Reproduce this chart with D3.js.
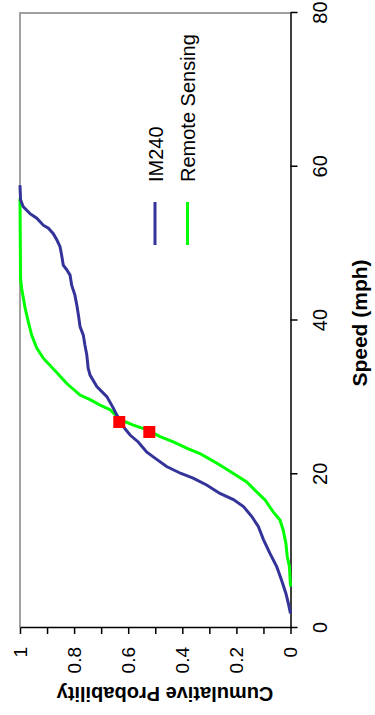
<!DOCTYPE html>
<html>
<head>
<meta charset="utf-8">
<script src="https://cdn.jsdelivr.net/npm/d3@7"></script>
<style>
  html, body { margin: 0; padding: 0; background: #fff; }
  svg { display: block; font-family: "Liberation Sans", Arial, sans-serif; }
</style>
</head>
<body>
<svg id="chart" width="375" height="715"></svg>
<script>
// ---- data ----
const speedTicks = [0, 20, 40, 60, 80];
const probTicks = [0, 0.1, 0.2, 0.3, 0.4, 0.5, 0.6, 0.7, 0.8, 0.9, 1];
const probLabels = ["0", "", "0.2", "", "0.4", "", "0.6", "", "0.8", "", "1"];
const seriesNames = ["IM240", "Remote Sensing"];

const im240Speed = [1.9, 3.2, 4.5, 6.2, 8.0, 9.7, 11.5, 13.2, 14.5, 15.8, 16.7, 17.5, 18.6, 19.5, 20.1, 21.0, 22.1, 22.9, 24.2, 25.1, 26.2, 27.7, 28.6, 30.1, 31.4, 32.9, 33.8, 35.5, 36.8, 38.1, 39.2, 40.7, 42.0, 43.3, 44.6, 45.9, 46.6, 47.2, 48.5, 49.6, 50.5, 51.3, 52.0, 52.4, 53.3, 53.9, 54.8, 55.7, 57.6];
const im240Prob  = [0, 0.008, 0.017, 0.033, 0.051, 0.076, 0.1, 0.119, 0.143, 0.174, 0.211, 0.261, 0.31, 0.36, 0.405, 0.458, 0.501, 0.532, 0.563, 0.593, 0.618, 0.642, 0.655, 0.679, 0.716, 0.741, 0.748, 0.753, 0.76, 0.766, 0.778, 0.784, 0.79, 0.797, 0.809, 0.815, 0.827, 0.84, 0.846, 0.852, 0.864, 0.877, 0.895, 0.914, 0.938, 0.963, 0.988, 0.998, 1.0];

const remoteSpeed = [5.4, 8.0, 9.3, 11.0, 12.75, 14.05, 15.1, 16.65, 17.7, 19.0, 20.1, 21.2, 22.0, 22.7, 23.4, 24.2, 24.9, 25.8, 26.4, 27.1, 28.4, 29.0, 29.7, 30.3, 31.8, 33.3, 35.1, 36.4, 38.1, 39.8, 41.6, 44.2, 45.5, 55.9];
const remoteProb  = [0, 0.004, 0.012, 0.017, 0.027, 0.039, 0.064, 0.094, 0.125, 0.162, 0.211, 0.261, 0.30, 0.335, 0.384, 0.433, 0.482, 0.532, 0.581, 0.63, 0.667, 0.704, 0.741, 0.778, 0.827, 0.866, 0.914, 0.938, 0.957, 0.969, 0.981, 0.994, 0.998, 1.0];

const markerSpeed = [26.8, 25.5];
const markerProb  = [0.633, 0.522];

// ---- drawing (chart drawn in landscape, then rotated -90deg) ----
const svg = d3.select("#chart");
svg.append("rect").attr("width", 375).attr("height", 715).attr("fill", "#fff");
const g = svg.append("g").attr("transform", "translate(0,715) rotate(-90)");

const x = d3.scaleLinear().domain([0, 80]).range([87, 702]);
const y = d3.scaleLinear().domain([0, 1]).range([290.5, 20]);

// plot frame (gray, top and right)
g.append("path")
  .attr("d", `M${x(0)},${y(1)}H${x(80)}V${y(0)}`)
  .attr("fill", "none").attr("stroke", "#a0a0a0").attr("stroke-width", 2);

// speed axis
const xAxis = g.append("g").attr("transform", `translate(0,${y(0)})`)
  .call(d3.axisBottom(x).tickValues(speedTicks).tickSizeInner(7).tickSizeOuter(0).tickPadding(15).tickFormat(d3.format("d")));
xAxis.select(".domain").attr("stroke", "#000").attr("stroke-width", 1.5);
xAxis.selectAll(".tick line").attr("stroke", "#000").attr("stroke-width", 1.5);
xAxis.selectAll("text").attr("font-size", 20).attr("fill", "#000").attr("font-family", "Liberation Sans, Arial, sans-serif");

// probability axis
const yAxis = g.append("g").attr("transform", `translate(${x(0)},0)`)
  .call(d3.axisLeft(y).tickValues(probTicks).tickSizeInner(6).tickSizeOuter(0).tickPadding(13)
    .tickFormat((d, i) => probLabels[i]));
yAxis.select(".domain").attr("stroke", "#000").attr("stroke-width", 1.5);
yAxis.selectAll(".tick line").attr("stroke", "#000").attr("stroke-width", 1.5);
yAxis.selectAll("text").attr("font-size", 19).attr("fill", "#000").attr("font-family", "Liberation Sans, Arial, sans-serif");

// axis titles
g.append("text").attr("x", 392).attr("y", 367).attr("text-anchor", "middle")
  .attr("font-size", 21).attr("font-weight", "bold").text("Speed (mph)");
g.append("text").attr("transform", "translate(28,165) rotate(-90)").attr("text-anchor", "middle")
  .attr("font-size", 20).attr("font-weight", "bold").text("Cumulative Probability");

// series lines
const line = d3.line().x(d => x(d[0])).y(d => y(d[1]));
const im240 = im240Speed.map((s, i) => [s, im240Prob[i]]);
const remote = remoteSpeed.map((s, i) => [s, remoteProb[i]]);
const colors = ["#333399", "#00ff00"];

g.append("path").datum(remote).attr("d", line)
  .attr("fill", "none").attr("stroke", colors[1]).attr("stroke-width", 3);
g.append("path").datum(im240).attr("d", line)
  .attr("fill", "none").attr("stroke", colors[0]).attr("stroke-width", 3);

// markers
g.selectAll("rect.marker").data(markerSpeed.map((s, i) => [s, markerProb[i]]))
  .enter().append("rect").attr("class", "marker")
  .attr("x", d => x(d[0]) - 6).attr("y", d => y(d[1]) - 6)
  .attr("width", 12).attr("height", 12).attr("fill", "#ff0000");

// legend
const legY = [155, 187.5];
seriesNames.forEach((name, i) => {
  g.append("line").attr("x1", 470).attr("x2", 513).attr("y1", legY[i]).attr("y2", legY[i])
    .attr("stroke", colors[i]).attr("stroke-width", 3);
  g.append("text").attr("x", 533).attr("y", legY[i] + 7.5).attr("font-size", 20)
    .attr("fill", "#000").text(name);
});
</script>
</body>
</html>
